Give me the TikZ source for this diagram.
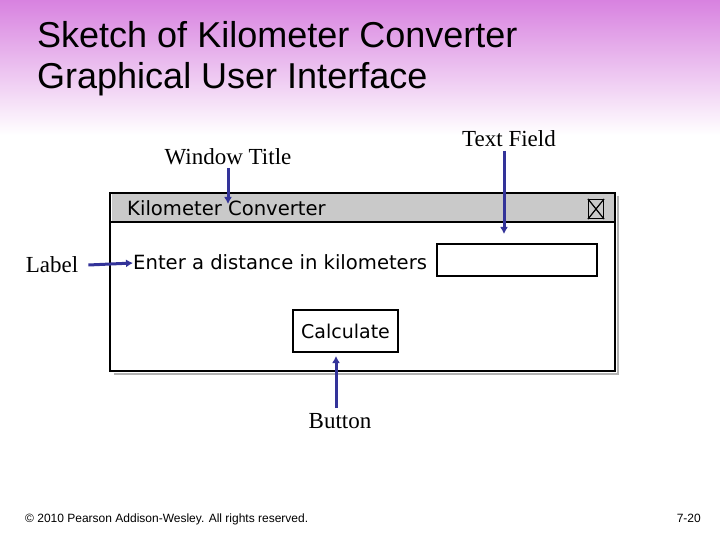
\documentclass[tikz,border=0pt]{standalone}
\usepackage{fontspec}
\setmainfont{Liberation Serif}
\newfontfamily\arialf{Liberation Sans}
\newfontfamily\sketchf{DejaVu Sans}
\usetikzlibrary{arrows.meta}
\definecolor{topcol}{RGB}{216,130,224}
\definecolor{arrowcol}{RGB}{51,51,153}
\definecolor{barcol}{RGB}{201,201,201}
\tikzset{
  callout/.style={font=\fontsize{23}{26}\selectfont, inner sep=0pt},
  pointer/.style={draw=arrowcol, line width=3pt, -{Latex[length=7pt,width=8pt]}},
  sketchtext/.style={font=\sketchf\fontsize{19.6}{22}\selectfont, inner sep=0pt},
  winline/.style={draw=black, line width=1.6pt},
}
\begin{document}
\begin{tikzpicture}[x=1pt,y=-1pt]
\useasboundingbox (0,0) rectangle (720,540);
\fill[white] (0,0) rectangle (720,540);
\shade[top color=topcol, bottom color=white] (0,0) rectangle (720,135);
% title
\node[anchor=base west, inner sep=0pt, font=\arialf\fontsize{36}{40}\selectfont] (t1) at (37,48) {Sketch of Kilometer Converter};
\node[anchor=base west, inner sep=0pt, font=\arialf\fontsize{36}{40}\selectfont] (t2) at (37,89) {Graphical User Interface};
% window shadow
\draw[gray!60, line width=2.5pt] (618,196) -- (618,374) -- (114,374);
% window
\fill[white] (110,193) rectangle (615,371);
\fill[barcol] (112,194) rectangle (614,222);
\draw[winline] (110,193) rectangle (615,371);
\draw[black, line width=1.4pt] (110,222) -- (615,222);
\node[sketchtext, anchor=west] (wt) at (127,208) {Kilometer Converter};
\node[draw=black, line width=1.2pt, fill=barcol, minimum width=15pt, minimum height=19pt, inner sep=0pt] (close) at (596,209) {};
\draw[black, line width=1.2pt] (close.north west) -- (close.south east) (close.north east) -- (close.south west);
\node[sketchtext, anchor=west] (lbl) at (133,262) {Enter a distance in kilometers};
\node[draw=black, line width=1.4pt, fill=white, minimum width=160pt, minimum height=32pt, inner sep=0pt] (field) at (517,260) {};
\node[draw=black, line width=1.6pt, fill=white, minimum width=105pt, minimum height=42pt, inner sep=0pt, font=\sketchf\fontsize{19}{22}\selectfont] (btn) at (345.5,331) {Calculate};
% callouts
\node[callout] (cwt) at (228,157) {Window Title};
\node[callout] (ctf) at (509,139) {Text Field};
\node[callout] (clb) at (52,265) {Label};
\node[callout] (cbt) at (340,421) {Button};
\coordinate (awt) at (228,204);
\coordinate (atf) at (504,234);
\coordinate (alb) at (133,263);
\coordinate (abt) at (336,356);
\draw[pointer] (228,168) -- (awt);
\draw[pointer] (504,151) -- (atf);
\draw[pointer] (clb.east) ++(10,0) -- (alb);
\draw[pointer] (336,408) -- (abt);
% footer
\node[anchor=base west, inner sep=0pt, font=\arialf\fontsize{12}{14}\selectfont] (copy) at (25,522) {© 2010 Pearson Addison-Wesley. All rights reserved.};
\node[anchor=base east, inner sep=0pt, font=\arialf\fontsize{12}{14}\selectfont] (pg) at (701,522) {7-20};
\end{tikzpicture}
\end{document}
